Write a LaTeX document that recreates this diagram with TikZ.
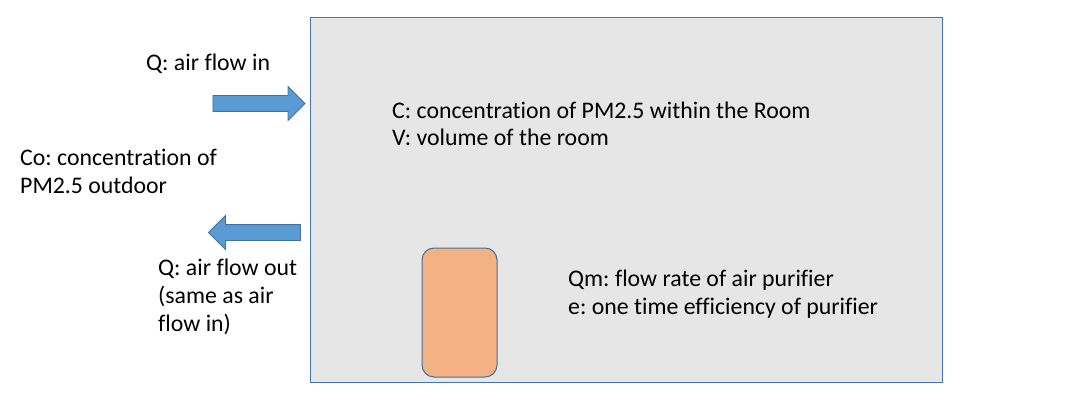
\documentclass[tikz,border=0pt]{standalone}
\usepackage{fontspec}
\setmainfont{Carlito}[Ligatures=NoCommon]
\frenchspacing
\usetikzlibrary{shapes.arrows,positioning}
\definecolor{ink}{HTML}{000000}
\definecolor{roomFill}{HTML}{E7E6E6}
\definecolor{roomLine}{HTML}{4472C4}
\definecolor{flowFill}{HTML}{5B9BD5}
\definecolor{flowLine}{HTML}{41719C}
\definecolor{unitFill}{HTML}{F4B183}
\tikzset{
  basetext/.style={font=\fontsize{23.8}{28}\selectfont,text=ink,align=left,inner sep=0pt,anchor=base west},
  flowarrow/.style={single arrow,draw=flowLine,fill=flowFill,line width=0.8pt,inner sep=7.5pt,
    single arrow head extend=9pt,single arrow head indent=0pt,minimum height=92pt}
}
\begin{document}
\begin{tikzpicture}[
    x=1pt,y=-1pt,
    room/.style={draw=roomLine,fill=roomFill,line width=1pt},
    unit/.style={draw=flowLine,fill=unitFill,line width=1pt,rounded corners=12pt}
  ]
    \useasboundingbox (0,0) rectangle (1075,417);

    \draw[room] (310,18) rectangle (942,382);

    \node[flowarrow] (flowin) at (255,103.5) {};
    \node[flowarrow,shape border rotate=180] (flowout) at (258.5,232.5) {};

    \draw[unit] (422,248) rectangle (497,377);

    % base anchor sits on the last line
    \node[basetext] (qin) at (146,71) {Q: air flow in};
    \node[basetext] (co) at (20,193) {Co: concentration of\\PM2.5 outdoor};
    \node[basetext] (qout) at (158,331) {Q: air flow out\\(same as air\\flow in)};
    \node[basetext] (croom) at (392,146) {C: concentration of PM2.5 within the Room\\V: volume of the room};
    \node[basetext] (qm) at (568,314) {Qm: flow rate of air purifier\\e: one time efficiency of purifier};
\end{tikzpicture}
\end{document}
